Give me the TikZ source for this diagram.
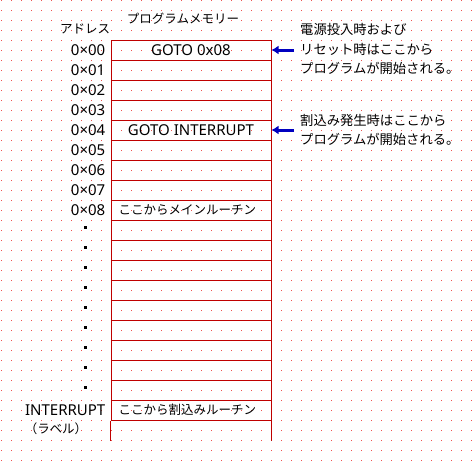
\documentclass[tikz,border=0pt]{standalone}
\usepackage{fontspec}
\setmainfont{Noto Sans CJK JP}
\newfontfamily\latinfont{Noto Sans}
\usetikzlibrary{positioning,arrows.meta}

\definecolor{memred}{RGB}{192,0,0}
\definecolor{gridred}{RGB}{240,80,80}
\definecolor{arrowblue}{RGB}{0,0,192}

\tikzset{
    cell/.style={draw=memred, line width=1pt, minimum width=160pt, minimum height=20pt, inner sep=0pt},
    addr/.style={inner sep=0pt, font=\latinfont\fontsize{15}{18}\selectfont},
    memtext/.style={inner sep=0pt, font=\fontsize{12.5}{15}\selectfont},
    code/.style={inner sep=0pt, font=\latinfont\fontsize{15}{18}\selectfont},
    note/.style={inner sep=0pt, anchor=west, align=left, font=\fontsize{13.3}{19.5}\selectfont},
    entry/.style={arrowblue, line width=3pt, -{Latex[length=7pt,width=9pt]}}
}

\begin{document}
\begin{tikzpicture}[x=1pt, y=-1pt]

    % Page size and background dot grid
    \useasboundingbox[fill=white] (0,0) rectangle (475,461);
    \foreach \gx in {0,...,47}
        \foreach \gy in {0,...,46}
            \fill[gridred] ({1+10*\gx},{10*\gy}) rectangle ++(1,1);

    % Memory cells: 19 rows from y=40 to y=420
    \foreach \i in {0,...,18}
        \node[cell] (m\i) at (191,{50+20*\i}) {};

    % Open row at the bottom
    \draw[memred, line width=1pt] (m18.south west) -- ++(0,20);
    \draw[memred, line width=1pt] (m18.south east) -- ++(0,20);

    % Headings
    \node[memtext] (addrhead) at (85,29) {アドレス};
    \node[memtext] (memhead) at (183,19) {プログラムメモリー};

    % Address labels 0x00 to 0x08
    \foreach \i in {0,...,8}
        \node[addr, left=5pt of m\i] (a\i) {0×0\i};

    % Dots for the skipped addresses
    \foreach \i in {0,...,8}
        \fill ({84},{226+20*\i}) rectangle ++(3,3);

    % Label of the interrupt routine
    \node[addr, left=5pt of m18] (intlabel) {INTERRUPT};
    \node[memtext] (intnote) at (56,429) {（ラベル）};

    % Texts in the memory cells
    \node[code] at (m0) {GOTO 0x08};
    \node[code] at (m4) {GOTO INTERRUPT};
    \node[memtext, anchor=west] at ([xshift=8pt]m8.west) {ここからメインルーチン};
    \node[memtext, anchor=west] at ([xshift=8pt]m18.west) {ここから割込みルーチン};

    % Notes on the right
    \node[note] (reset) at (300,49) {電源投入時および\\リセット時はここから\\プログラムが開始される。};
    \node[note] (intr) at (300,130) {割込み発生時はここから\\プログラムが開始される。};

    % Arrows pointing at the entry cells
    \coordinate (p0) at (294,50);
    \coordinate (p4) at (294,130);
    \draw[entry] (p0) -- (m0.east);
    \draw[entry] (p4) -- (m4.east);

\end{tikzpicture}
\end{document}
